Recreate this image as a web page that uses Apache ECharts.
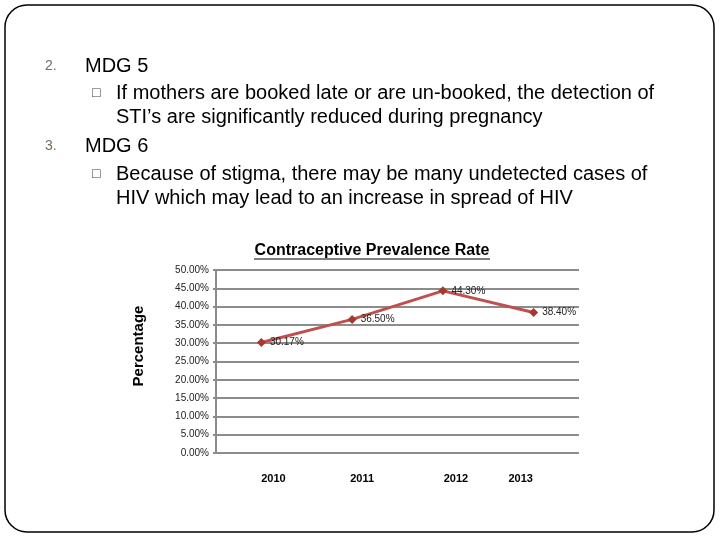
<!DOCTYPE html>
<html>
<head>
<meta charset="utf-8">
<script src="https://cdn.jsdelivr.net/npm/echarts@6/dist/echarts.min.js"></script>
<style>
  html, body { margin: 0; background: #fff; }
  #main { width: 720px; height: 540px; }
</style>
</head>
<body>
<div id="main"></div>
<script>
const years = ['2010', '2011', '2012', '2013']
const rates = [30.17, 36.50, 44.30, 38.40]
// label shift (px) under each year, as in the original slide
const yearShift = [12, 10, 13, -13]
const yMin = 0
const yMax = 50
const yStep = 5

const font = 'Liberation Sans, Arial, sans-serif'

const bodyLines = [
  { x: 45, y: 66, text: '2.', size: 14, color: '#7a6a5c' },
  { x: 85, y: 66, text: 'MDG 5', size: 20, color: '#000' },
  { x: 92, y: 93, text: '\u25A1', size: 14, color: '#4a3a30' },
  { x: 116, y: 93, text: 'If mothers are booked late or are un-booked, the detection of', size: 20, color: '#000' },
  { x: 116, y: 117, text: 'STI\u2019s are significantly reduced during pregnancy', size: 20, color: '#000' },
  { x: 45, y: 146, text: '3.', size: 14, color: '#7a6a5c' },
  { x: 85, y: 146, text: 'MDG 6', size: 20, color: '#000' },
  { x: 92, y: 174, text: '\u25A1', size: 14, color: '#4a3a30' },
  { x: 116, y: 174, text: 'Because of stigma, there may be many undetected cases of', size: 20, color: '#000' },
  { x: 116, y: 198, text: 'HIV which may lead to an increase in spread of HIV', size: 20, color: '#000' }
]

const rich = {}
yearShift.forEach((s, i) => {
  rich['y' + i] = {
    fontFamily: font,
    fontSize: 11,
    fontWeight: 'bold',
    color: '#000',
    padding: s >= 0 ? [0, 0, 0, 2 * s] : [0, -2 * s, 0, 0]
  }
})

const chart = echarts.init(document.getElementById('main'))
const option = {
  animation: false,
  textStyle: { fontFamily: font },
  grid: { left: 216, right: 141, top: 270, bottom: 87 },
  xAxis: {
    type: 'category',
    data: years,
    boundaryGap: true,
    axisLine: { show: false },
    axisTick: { show: false },
    axisLabel: {
      margin: 20,
      formatter: (v, i) => '{y' + i + '|' + v + '}',
      rich: rich
    }
  },
  yAxis: {
    type: 'value',
    min: yMin,
    max: yMax,
    interval: yStep,
    axisLine: { show: true, lineStyle: { color: '#8c8c8c', width: 2 } },
    axisTick: { show: true, length: 3, lineStyle: { color: '#8c8c8c', width: 2 } },
    axisLabel: {
      margin: 7,
      fontSize: 10,
      color: '#222',
      formatter: v => v.toFixed(2) + '%'
    },
    splitLine: { lineStyle: { color: '#8c8c8c', width: 2 } }
  },
  series: [
    {
      type: 'line',
      data: rates,
      symbol: 'diamond',
      symbolSize: 9,
      lineStyle: { color: '#c0504d', width: 3 },
      itemStyle: { color: '#a8372f' },
      label: {
        show: true,
        position: 'right',
        distance: 4,
        fontSize: 10,
        color: '#222',
        formatter: p => p.value.toFixed(2) + '%'
      }
    }
  ],
  graphic: [
    {
      type: 'rect',
      shape: { x: 5, y: 5, width: 709, height: 527, r: 22 },
      style: { fill: 'none', stroke: '#000', lineWidth: 1.5 }
    },
    {
      type: 'text',
      x: 372,
      y: 251,
      style: {
        text: 'Contraceptive Prevalence Rate',
        font: 'bold 16px ' + font,
        fill: '#000',
        textAlign: 'center',
        textVerticalAlign: 'middle'
      }
    },
    {
      type: 'line',
      shape: { x1: 254, y1: 259, x2: 490, y2: 259 },
      style: { stroke: '#000', lineWidth: 1.2 }
    },
    {
      type: 'text',
      x: 139,
      y: 346,
      rotation: Math.PI / 2,
      style: {
        text: 'Percentage',
        font: 'bold 15px ' + font,
        fill: '#000',
        textAlign: 'center',
        textVerticalAlign: 'middle'
      }
    }
  ].concat(bodyLines.map(l => ({
    type: 'text',
    x: l.x,
    y: l.y,
    style: {
      text: l.text,
      font: l.size + 'px ' + font,
      fill: l.color,
      textVerticalAlign: 'middle'
    }
  })))
}
chart.setOption(option)
</script>
</body>
</html>
